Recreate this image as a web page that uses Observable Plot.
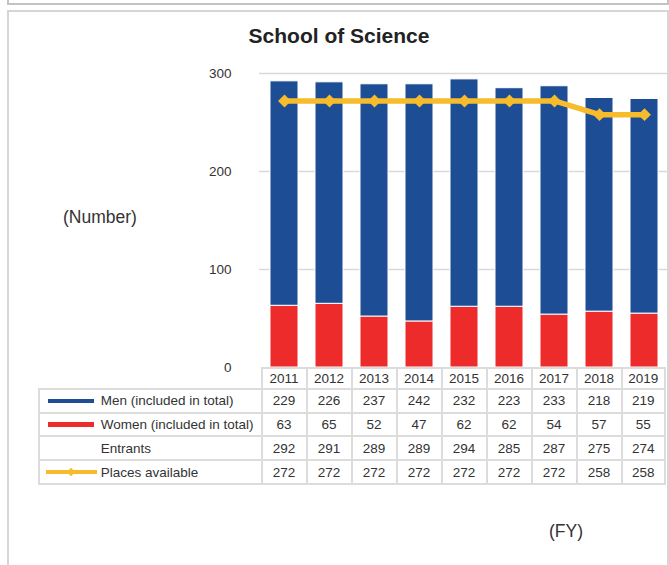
<!DOCTYPE html>
<html><head><meta charset="utf-8">
<script src="https://cdn.jsdelivr.net/npm/d3@7"></script>
<script src="https://cdn.jsdelivr.net/npm/@observablehq/plot@0.6"></script>
<style>
body{margin:0;background:#fff;font-family:"Liberation Sans",Arial,sans-serif;color:#333;}
#page{position:relative;width:669px;height:565px;overflow:hidden;background:#fff;}
.abs{position:absolute;}
.cell{position:absolute;box-sizing:border-box;border:2px solid #dcdcdc;display:flex;align-items:center;justify-content:center;font-size:13.5px;color:#333;white-space:nowrap;}
.lab{justify-content:flex-start;}
</style></head><body><div id="page"></div>
<script>
const years = ["2011","2012","2013","2014","2015","2016","2017","2018","2019"];
const men = [229,226,237,242,232,223,233,218,219];
const women = [63,65,52,47,62,62,54,57,55];
const entrants = [292,291,289,289,294,285,287,275,274];
const places = [272,272,272,272,272,272,272,258,258];
const yTicks = [0,100,200,300];
const rowLabels = ["Men (included in total)","Women (included in total)","Entrants","Places available"];
const title = "School of Science";
const yUnit = "(Number)";
const xUnit = "(FY)";

const BLUE = "#1c4d95", RED = "#ee2b2b", YELLOW = "#f6bc2b";
const FONT = '"Liberation Sans",Arial,sans-serif';

const stackData = years.flatMap((y,i)=>[
  {year:y, group:"Women", value:women[i]},
  {year:y, group:"Men", value:men[i]}
]);
const placeData = years.map((y,i)=>({year:y, value:places[i]}));

const page = document.getElementById("page");

// frames
const prevBox = document.createElement("div");
prevBox.className = "abs";
Object.assign(prevBox.style,{left:"7px",top:"-12px",width:"662px",height:"17px",border:"2px solid #c3c3c3",boxSizing:"border-box"});
page.appendChild(prevBox);
const box = document.createElement("div");
box.className = "abs";
Object.assign(box.style,{left:"7px",top:"10px",width:"662px",height:"600px",border:"2px solid #d6d6d6",boxSizing:"border-box"});
page.appendChild(box);

const chart = Plot.plot({
  width:669, height:368,
  marginTop:73, marginBottom:1, marginLeft:259, marginRight:0,
  x:{domain:years, paddingInner:0.385, paddingOuter:0.1925, axis:null},
  y:{domain:[0,300], axis:null},
  color:{domain:["Men","Women"], range:[BLUE,RED]},
  style:{fontFamily:FONT, fontSize:"13.5px", color:"#333", background:"transparent", overflow:"visible"},
  marks:[
    Plot.gridY(yTicks.filter(d=>d>0), {stroke:"#d9d9d9", strokeOpacity:1, strokeWidth:1.5}),
    Plot.axisY({ticks:yTicks, tickSize:0, tickPadding:28, tickFormat:d=>String(d), label:null, fontSize:13.5, fill:"#333"}),
    Plot.barY(stackData, {x:"year", y:"value", fill:"group", stroke:"white", strokeWidth:1}),
    Plot.lineY(placeData, {x:"year", y:"value", stroke:YELLOW, strokeWidth:5.5}),
    Plot.dot(placeData, {x:"year", y:"value", symbol:"diamond2", r:5.8, fill:YELLOW, stroke:"none"})
  ]
});
chart.style.position = "absolute";
chart.style.left = "0px";
chart.style.top = "0px";
page.appendChild(chart);

// texts
function addText(txt, css){
  const d = document.createElement("div");
  d.className = "abs";
  d.textContent = txt;
  Object.assign(d.style, css);
  page.appendChild(d);
  return d;
}
addText(title,{left:"0px",width:"678px",textAlign:"center",top:"24px",lineHeight:"24px",fontSize:"21px",fontWeight:"bold",color:"#222"});
addText(yUnit,{left:"63px",top:"207px",lineHeight:"20px",fontSize:"17.5px",color:"#333"});
addText(xUnit,{left:"549px",top:"521px",lineHeight:"20px",fontSize:"17.5px",color:"#333"});

// table from x scale
const xs = chart.scale("x");
const step = xs.step, bw = xs.bandwidth;
const colLeft = years.map(y => xs.apply(y) - (step - bw)/2);
const colRight = colLeft.map((l,i)=> Math.min(l + step, 665));
const labelLeft = 39;
const headerTop = 368, rowTops = [389, 412.5, 436, 460, 484];
function cell(x0, x1, y0, y1, content, cls){
  const d = document.createElement("div");
  d.className = "cell" + (cls ? " " + cls : "");
  Object.assign(d.style,{left:(x0-1)+"px", top:(y0-1)+"px", width:(x1-x0+2)+"px", height:(y1-y0+2)+"px"});
  if (typeof content === "string") d.textContent = content; else if (content) d.appendChild(content);
  page.appendChild(d);
  return d;
}
years.forEach((y,i)=> cell(colLeft[i], colRight[i], headerTop, rowTops[0], y));
const rowValues = [men, women, entrants, places];
rowValues.forEach((vals, r)=>{
  const y0 = rowTops[r], y1 = rowTops[r+1];
  const lab = cell(labelLeft, colLeft[0], y0, y1, null, "lab");
  const span = document.createElement("span");
  span.textContent = rowLabels[r];
  span.style.position = "absolute";
  span.style.left = (100.7 - labelLeft + 1 - 2) + "px";
  lab.appendChild(span);
  const mid = (y1 - y0 + 2)/2 - 2;
  if (r === 0 || r === 1) {
    const sw = document.createElement("div");
    Object.assign(sw.style,{position:"absolute", left:(48 - labelLeft - 1)+"px", top:(mid - 2.25)+"px", width:"46px", height:"4.5px", background: r===0 ? BLUE : RED});
    lab.appendChild(sw);
  } else if (r === 3) {
    const sw = document.createElement("div");
    Object.assign(sw.style,{position:"absolute", left:(46 - labelLeft - 1)+"px", top:(mid - 2)+"px", width:"51px", height:"4px", background:YELLOW});
    lab.appendChild(sw);
    const dm = document.createElement("div");
    Object.assign(dm.style,{position:"absolute", left:(71 - labelLeft - 1 - 3)+"px", top:(mid - 3)+"px", width:"6px", height:"6px", background:YELLOW, transform:"rotate(45deg)"});
    lab.appendChild(dm);
  }
  vals.forEach((v,i)=> cell(colLeft[i], colRight[i], y0, y1, String(v)));
});
</script></body></html>
